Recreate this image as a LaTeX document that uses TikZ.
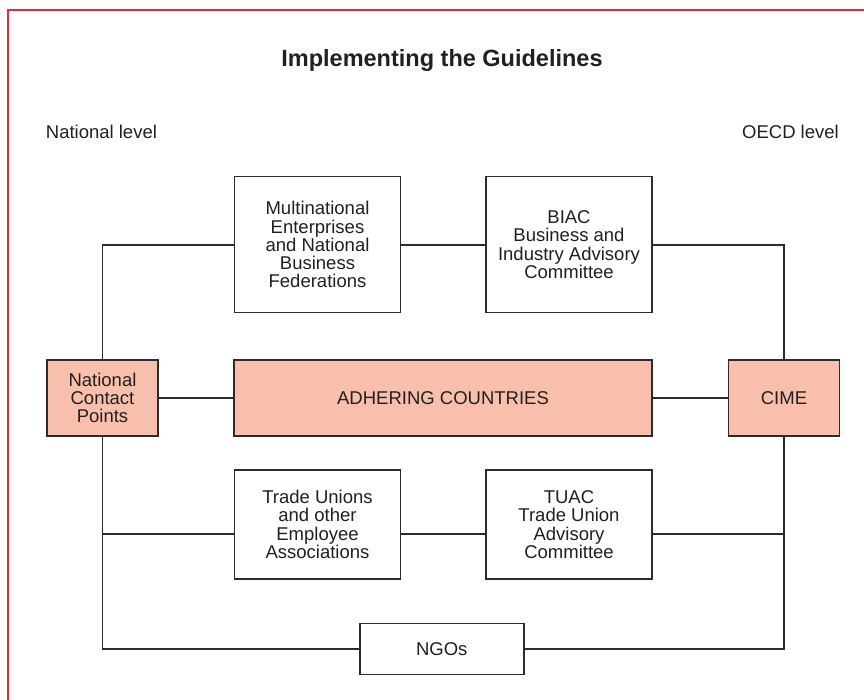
\documentclass[tikz,border=0pt]{standalone}
\usepackage{fontspec}
\setmainfont{Liberation Sans}
\definecolor{frameRed}{RGB}{232,38,58}
\definecolor{inkGray}{RGB}{45,43,44}
\definecolor{textInk}{RGB}{35,31,32}
\definecolor{salmon}{RGB}{249,191,173}
\begin{document}
\begin{tikzpicture}[x=1pt,y=-1pt,
  wire/.style={draw=inkGray, line width=1.8pt},
  box/.style={draw=inkGray, line width=1.6pt, fill=white, text=textInk,
    align=center, inner sep=0pt, font=\fontsize{18.5}{18.3}\selectfont},
  widebox/.style={box, minimum width=166pt},
  hotbox/.style={box, fill=salmon, minimum height=76pt},
  label/.style={text=textInk, inner sep=0pt, font=\fontsize{18.5}{18}\selectfont}]
  \useasboundingbox (0,0) rectangle (864,700);

  % outer frame (open on the right and bottom)
  \draw[frameRed, line width=2pt] (7.7,700) -- (7.7,10) -- (864,10);

  % headings
  \node[label, anchor=base, font=\fontsize{23.5}{26}\selectfont\bfseries] (title) at (442,67) {Implementing the Guidelines};
  \node[label, anchor=base west] (natlevel) at (45.7,139) {National level};
  \node[label, anchor=base east] (oecdlevel) at (839,139) {OECD level};

  % upper row
  \node[widebox, minimum height=136pt] (mne) at (317.5,244.7)
    {Multinational\\Enterprises\\and National\\Business\\Federations};
  \node[widebox, minimum height=136pt] (biac) at (569,244.7)
    {BIAC\\Business and\\Industry Advisory\\Committee};

  % middle row
  \node[hotbox, minimum width=111pt] (ncp) at (102.5,397.7) {National\\Contact\\Points};
  \node[hotbox, minimum width=418pt] (adh) at (443,397.7) {ADHERING COUNTRIES};
  \node[hotbox, minimum width=111pt] (cime) at (784,397.7) {CIME};

  % lower row
  \node[widebox, minimum height=109pt] (tu) at (317.5,524.5)
    {Trade Unions\\and other\\Employee\\Associations};
  \node[widebox, minimum height=109pt] (tuac) at (569,524.5)
    {TUAC\\Trade Union\\Advisory\\Committee};

  % bottom
  \node[box, minimum width=164pt, minimum height=51pt] (ngo) at (441.7,648.8) {NGOs};

  % connectors
  \draw[wire] (ncp.north) |- (mne.west);
  \draw[wire] (mne.east) -- (biac.west);
  \draw[wire] (biac.east) -| (cime.north);
  \draw[wire] (ncp.east) -- (adh.west);
  \draw[wire] (adh.east) -- (cime.west);
  \draw[wire] (ncp.south) |- ([yshift=-9.5pt]tu.west);
  \draw[wire] ([yshift=-9.5pt]tu.east) -- ([yshift=-9.5pt]tuac.west);
  \draw[wire] (cime.south) |- ([yshift=-9.5pt]tuac.east);
  \draw[wire] (ncp.south) |- (ngo.west);
  \draw[wire] (cime.south) |- (ngo.east);
\end{tikzpicture}
\end{document}
